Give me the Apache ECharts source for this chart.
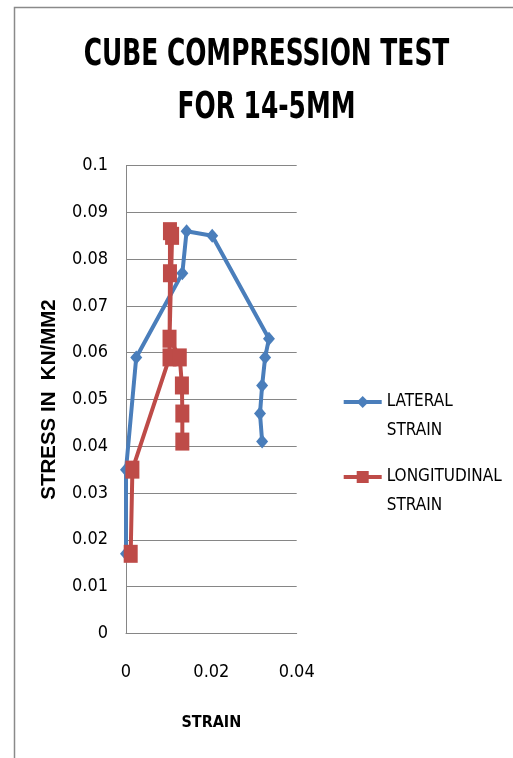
<!DOCTYPE html>
<html>
<head>
<meta charset="utf-8">
<script src="https://cdn.jsdelivr.net/npm/echarts@6/dist/echarts.min.js"></script>
<style>
  html, body { margin: 0; padding: 0; background: #ffffff; }
  #chart { width: 513px; height: 758px; }
</style>
</head>
<body>
<div id="chart"></div>
<script>
// Cube compression test, 14-5 mm: stress against lateral and longitudinal strain
const titleLines = ['CUBE COMPRESSION TEST', 'FOR 14-5MM'];
const xAxisTitle = 'STRAIN';
const yAxisTitle = 'STRESS IN  KN/MM2';

// [strain, stress (kN/mm2)] in test order
const lateralStrain = [0, 0, 0.0024, 0.0132, 0.0142, 0.0202, 0.0335, 0.0326, 0.0319, 0.0314, 0.0319];
const lateralStress = [0.017, 0.035, 0.059, 0.077, 0.086, 0.085, 0.063, 0.059, 0.053, 0.047, 0.041];

const longitudinalStrain = [0.0011, 0.0015, 0.0102, 0.0103, 0.0103, 0.0108, 0.0102, 0.0126, 0.0131, 0.0132, 0.0132];
const longitudinalStress = [0.017, 0.035, 0.059, 0.077, 0.086, 0.085, 0.063, 0.059, 0.053, 0.047, 0.041];

const seriesNames = ['LATERAL STRAIN', 'LONGITUDINAL STRAIN'];

const pairs = (xs, ys) => xs.map((x, i) => [x, ys[i]]);

const narrow = "'DejaVu Sans Condensed', 'Liberation Sans Narrow', sans-serif";
const wide = "'Liberation Sans', Arial, sans-serif";
const gridGray = '#868686';
const blue = '#4A7EBB';
const red = '#BE4B48';

const chart = echarts.init(document.getElementById('chart'), null, { renderer: 'canvas' });

// legend label: first word level with the icon, second word below it
const legendLabel = n => '\n' + n.replace(' ', '\n');

const legendText = {
  fontFamily: narrow,
  fontSize: 17,
  color: '#000000',
  lineHeight: 29
};

const titleText = (text, y) => ({
  type: 'text',
  x: 266.5, y: y,
  scaleX: 0.894,
  scaleY: 1.22,
  silent: true,
  style: {
    text: text,
    fontFamily: narrow, fontWeight: 'bold', fontSize: 31,
    fill: '#000000', textAlign: 'center', textVerticalAlign: 'middle'
  }
});

chart.setOption({
  animation: false,
  backgroundColor: '#ffffff',
  graphic: [
    {
      type: 'rect',
      z: -10,
      silent: true,
      shape: { x: 14.5, y: 7.5, width: 700, height: 900 },
      style: { fill: 'none', stroke: '#8a8a8a', lineWidth: 1.5 }
    },
    titleText(titleLines[0], 55.5),
    titleText(titleLines[1], 108.5)
  ],
  grid: { left: 126, right: 216.3, top: 165.7, bottom: 124.7 },
  xAxis: {
    type: 'value',
    min: 0, max: 0.04, interval: 0.02,
    name: xAxisTitle,
    nameLocation: 'middle',
    nameGap: 82,
    nameTextStyle: { fontFamily: narrow, fontWeight: 'bold', fontSize: 16, color: '#000000' },
    axisLine: { show: true, lineStyle: { color: gridGray, width: 1 } },
    axisTick: { show: false },
    splitLine: { show: false },
    axisLabel: { fontFamily: narrow, fontSize: 18, color: '#000000', margin: 30 }
  },
  yAxis: {
    type: 'value',
    min: 0, max: 0.1, interval: 0.01,
    name: yAxisTitle,
    nameLocation: 'middle',
    nameRotate: 90,
    nameGap: 66,
    nameTextStyle: { fontFamily: wide, fontWeight: 'bold', fontSize: 20.5, color: '#000000' },
    axisLine: { show: true, lineStyle: { color: gridGray, width: 1 } },
    axisTick: { show: false },
    splitLine: { show: true, lineStyle: { color: gridGray, width: 1 } },
    axisLabel: { fontFamily: narrow, fontSize: 18, color: '#000000', margin: 18 }
  },
  legend: [
    {
      data: [seriesNames[0]],
      left: 341.7, top: 358.5, padding: 0,
      itemWidth: 38, itemHeight: 15,
      lineStyle: { width: 4 },
      formatter: legendLabel,
      textStyle: legendText
    },
    {
      data: [seriesNames[1]],
      left: 341.7, top: 433.5, padding: 0,
      itemWidth: 38, itemHeight: 15,
      lineStyle: { width: 4 },
      formatter: legendLabel,
      textStyle: legendText
    }
  ],
  series: [
    {
      name: seriesNames[0],
      type: 'line',
      data: pairs(lateralStrain, lateralStress),
      symbol: 'diamond',
      symbolSize: [12, 14],
      lineStyle: { color: blue, width: 4 },
      itemStyle: { color: blue },
      emphasis: { disabled: true }
    },
    {
      name: seriesNames[1],
      type: 'line',
      data: pairs(longitudinalStrain, longitudinalStress),
      symbol: 'rect',
      symbolSize: [14, 18],
      lineStyle: { color: red, width: 4 },
      itemStyle: { color: red },
      emphasis: { disabled: true }
    }
  ]
});
</script>
</body>
</html>
